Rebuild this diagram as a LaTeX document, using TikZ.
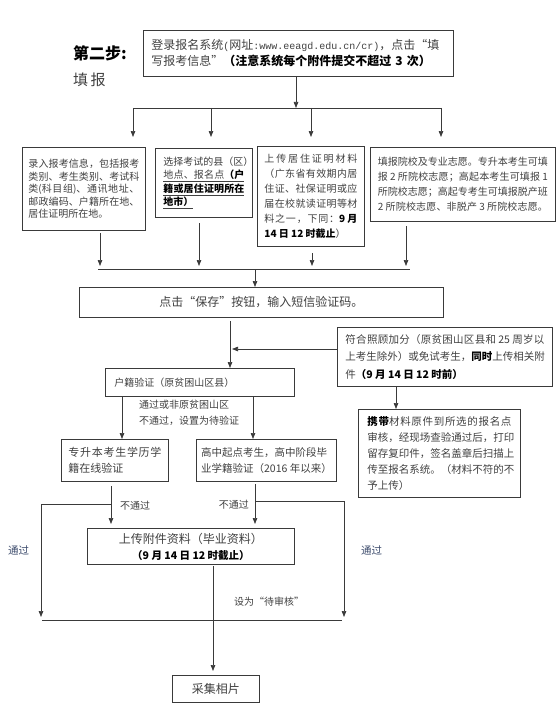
\documentclass[tikz,border=0pt]{standalone}
\usepackage{fontspec}
\setmainfont{Noto Sans CJK SC}
\newfontfamily\monofont{Liberation Mono}
\usetikzlibrary{arrows.meta,calc}
\makeatletter
\count@="4E00
\loop\ifnum\count@<"A000 \XeTeXcharclass\count@=1 \advance\count@ 1 \repeat
\makeatother
\XeTeXcharclass"3001=1 \XeTeXcharclass"3002=1 \XeTeXcharclass"FF0C=1
\XeTeXcharclass"FF08=1 \XeTeXcharclass"FF09=1 \XeTeXcharclass"FF1A=1
\XeTeXcharclass"FF1B=1
\XeTeXinterchartoks 1 1 = {\hskip 0pt plus 1fil\relax}
\definecolor{textgray}{HTML}{404040}
\definecolor{linegray}{HTML}{3A3A3A}
\definecolor{passblue}{HTML}{3B4A6B}
\newcommand{\jl}[2]{\makebox[#1][s]{\XeTeXinterchartokenstate=1 #2}}
\newcommand{\fs}[2]{\fontsize{#1}{#2}\selectfont}
\tikzset{
  bx/.style={draw=linegray, line width=0.9pt, anchor=north west, inner sep=0pt, text=textgray, align=left},
  ar/.style={draw=linegray, line width=0.7pt, -{Triangle[length=6pt,width=4.5pt]}},
  ln/.style={draw=linegray, line width=0.7pt},
  lbl/.style={inner sep=0pt, text=textgray, anchor=west},
}
\begin{document}
\begin{tikzpicture}[x=1pt,y=-1pt]
\useasboundingbox (0,0) rectangle (557,706);

% headings
\node[inner sep=0pt, anchor=west, font=\fs{16}{18}\bfseries] (h1) at (73,53) {第二步:};
\node[inner sep=0pt, anchor=west, font=\fs{15}{18}, text=textgray] (h2) at (73,80) {填\,报};

% top box
\node[bx, minimum width=310pt, minimum height=46pt, text width=294pt, font=\fs{12}{16}] (top) at (143,30)
 {登录报名系统{\monofont\fs{10}{16}(}网址{\monofont\fs{10}{16}:www.eeagd.edu.cn/cr)}，点击“填\\
  写报考信息”\textcolor{black}{\bfseries（注意系统每个附件提交不超过 3 次）}};

% row of four boxes
\node[bx, minimum width=123pt, minimum height=83pt, font=\fs{10}{12.5}] (A) at (22,147)
 {\jl{111pt}{录入报考信息，包括报考}\\
  \jl{111pt}{类别、考生类别、考试科}\\
  \jl{111pt}{类(科目组)、通讯地址、}\\
  \jl{111pt}{邮政编码、户籍所在地、}\\
  居住证明所在地。};

\node[bx, minimum width=97pt, minimum height=69pt, font=\fs{10}{13.5}] (B) at (155,148)
 {\jl{81pt}{选择考试的县（区）}\\
  \underline{\jl{81pt}{地点、报名点\textcolor{black}{\bfseries（户}}}\\
  \underline{\jl{81pt}{\textcolor{black}{\bfseries 籍或居住证明所在}}}\\
  \underline{\textcolor{black}{\bfseries 地市）}}};

\node[bx, minimum width=107pt, minimum height=100pt, font=\fs{10}{15}] (C) at (257,146)
 {\jl{93pt}{上传居住证明材料}\\
  \jl{93pt}{（广东省有效期内居}\\
  \jl{93pt}{住证、社保证明或应}\\
  \jl{93pt}{届在校就读证明等材}\\
  \jl{93pt}{料之一，下同：\textcolor{black}{\bfseries 9 月}}\\
  \textcolor{black}{\bfseries 14 日 12 时截止}）};

\node[bx, minimum width=185pt, minimum height=74pt, font=\fs{10}{15}] (D) at (370,147)
 {\jl{170pt}{填报院校及专业志愿。专升本考生可填}\\
  \jl{170pt}{报 2 所院校志愿；高起本考生可填报 1}\\
  \jl{170pt}{所院校志愿；高起专考生可填报脱产班}\\
  \jl{170pt}{2 所院校志愿、非脱产 3 所院校志愿。}};

% save box
\node[bx, minimum width=364pt, minimum height=30pt, align=center, font=\fs{12}{14}] (save) at (79,287)
 {点击“保存”按钮，输入短信验证码。};

% huji box
\node[bx, minimum width=189pt, minimum height=28pt, text width=171pt, font=\fs{10}{12}] (huji) at (105,368)
 {户籍验证（原贫困山区县）};

% fuhe box
\node[bx, minimum width=215pt, minimum height=59pt, font=\fs{10.5}{17.5}] (fuhe) at (337,327)
 {\jl{199pt}{符合照顾加分（原贫困山区县和 25 周岁以}\\
  \jl{199pt}{上考生除外）或免试考生，\textcolor{black}{\bfseries 同时}上传相关附}\\
  件\textcolor{black}{\bfseries（9 月 14 日 12 时前）}};

% xiedai box
\node[bx, minimum width=162pt, minimum height=88pt, font=\fs{10.5}{16}] (xd) at (358,409)
 {\jl{144pt}{\textcolor{black}{\bfseries 携带}材料原件到所选的报名点}\\
  \jl{144pt}{审核，经现场查验通过后，打印}\\
  \jl{144pt}{留存复印件，签名盖章后扫描上}\\
  \jl{144pt}{传至报名系统。（材料不符的不}\\
  予上传）};

% zsb box
\node[bx, minimum width=107pt, minimum height=42pt, font=\fs{11}{16}] (zsb) at (61,439)
 {\jl{93pt}{专升本考生学历学}\\
  籍在线验证};

% gz box
\node[bx, minimum width=140pt, minimum height=42pt, font=\fs{10.5}{16}] (gz) at (196,439)
 {\jl{124pt}{高中起点考生，高中阶段毕}\\
  业学籍验证（2016 年以来）};

% upload box
\node[bx, minimum width=207pt, minimum height=36pt, align=center, font=\fs{12}{16}] (up) at (87,528)
 {上传附件资料（毕业资料）\\
  {\fs{10.5}{16}\textcolor{black}{\bfseries（9 月 14 日 12 时截止）}}};

% photo box
\node[bx, minimum width=87pt, minimum height=27pt, align=center, font=\fs{12}{14}] (ph) at (172,675)
 {采集相片};

% labels
\node[lbl, font=\fs{10}{12}] (l1) at (139,405) {通过或非原贫困山区};
\node[lbl, font=\fs{10}{12}] (l2) at (139,421) {不通过，设置为待验证};
\node[lbl, font=\fs{10}{12}] (l3) at (120,506) {不通过};
\node[lbl, font=\fs{10}{12}, anchor=east] (l4) at (249,505) {不通过};
\node[lbl, font=\fs{10.5}{12}, text=passblue] (l5) at (8,550) {通过};
\node[lbl, font=\fs{10.5}{12}, text=passblue] (l6) at (361,550) {通过};
\node[lbl, font=\fs{10}{12}] (l7) at (234,602) {设为“待审核”};

% coordinates
\coordinate (b1l) at (133,108);
\coordinate (b1r) at (441,108);
\coordinate (b1m) at (296,108);
\coordinate (a2) at (211,108);
\coordinate (a3) at (311,108);
\coordinate (b2l) at (98,269);
\coordinate (b2r) at (410,269);
\coordinate (s1) at (100,233);
\coordinate (s2) at (199,223);
\coordinate (s3) at (312,253);
\coordinate (s4) at (406,226);
\coordinate (sv) at (255,269);
\coordinate (hs) at (230,321);
\coordinate (fj) at (232,349);
\coordinate (fs0) at (396,386);
\coordinate (hl) at (122,396);
\coordinate (hr) at (253,396);
\coordinate (zs) at (111,486);
\coordinate (zj) at (111,504);
\coordinate (lft) at (41,504);
\coordinate (gs) at (255,484);
\coordinate (gj) at (255,501);
\coordinate (rgt) at (344,501);
\coordinate (bl) at (42,620);
\coordinate (br) at (342,620);
\coordinate (us) at (213,566);

% connectors
\draw[ar] (top.south -| b1m) -- (b1m);
\draw[ln] (b1l) -- (b1r);
\draw[ar] (b1l) -- ++(0,29);
\draw[ar] (a2) -- ++(0,29);
\draw[ar] (a3) -- ++(0,29);
\draw[ar] (b1r) -- ++(0,29);

\draw[ar] (s1) -- ($(s1 |- b2l)+(0,-3)$);
\draw[ar] (s2) -- ($(s2 |- b2l)+(0,-3)$);
\draw[ar] (s3) -- ($(s3 |- b2l)+(0,-3)$);
\draw[ar] (s4) -- ($(s4 |- b2l)+(0,-3)$);
\draw[ln] (b2l) -- (b2r);
\draw[ar] (sv) -- (sv |- save.north);

\draw[ar] (hs) -- (hs |- huji.north);
\draw[ar] (fuhe.west |- fj) -- (fj);
\draw[ar] (fs0) -- (fs0 |- xd.north);

\draw[ar] (hl) -- (hl |- zsb.north);
\draw[ar] (hr) -- (hr |- gz.north);

\draw[ar] (zs) -- ($(zs |- up.north)+(0,-4)$);
\draw[ar] (zj) -- (lft) -- ($(lft |- bl)+(0,-3)$);
\draw[ar] (gs) -- ($(gs |- up.north)+(0,-4)$);
\draw[ar] (gj) -- (rgt) -- ($(rgt |- br)+(0,-3)$);
\draw[ln] (bl) -- (br);
\draw[ar] (us) -- ($(us |- ph.north)+(0,-4)$);
\end{tikzpicture}
\end{document}
